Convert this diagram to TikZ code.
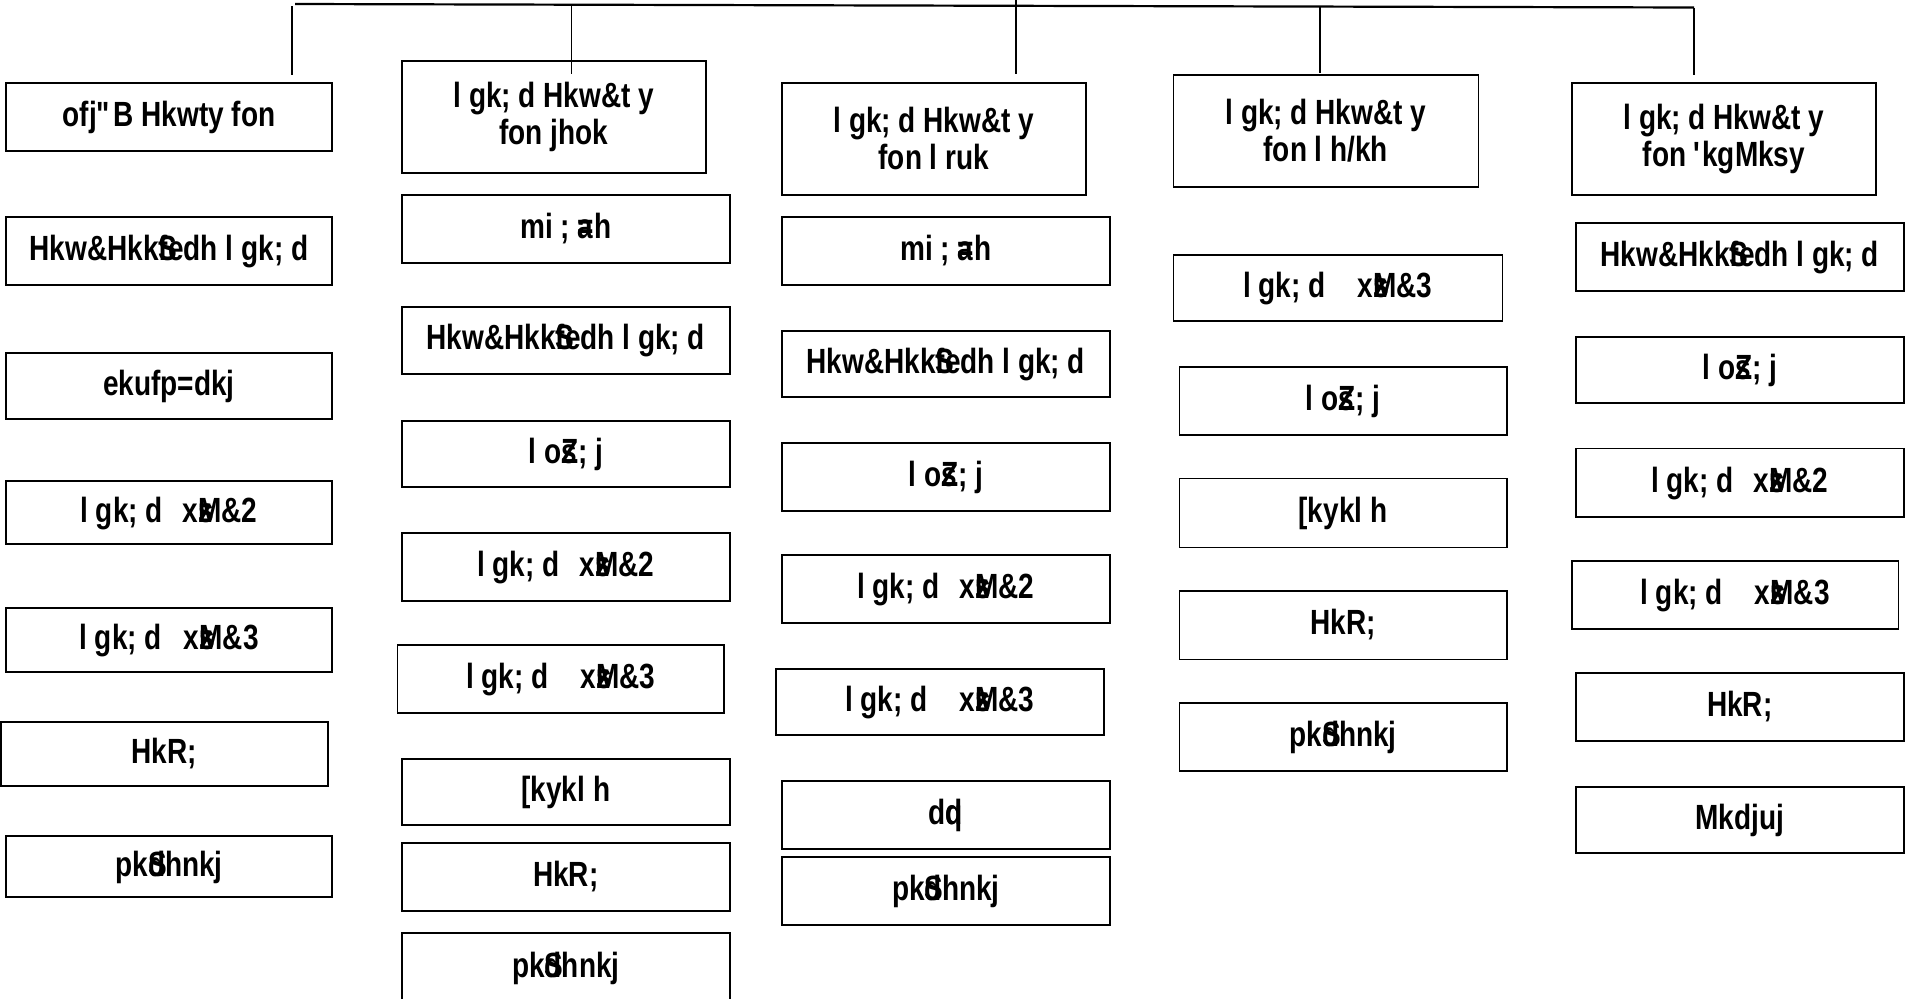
\documentclass[tikz,border=0pt]{standalone}
\usepackage{fontspec}
\setmainfont{Liberation Sans}
\newfontfamily\kdfont{Liberation Sans Bold}[FakeStretch=0.8]
\newcommand\kov[1]{\makebox[0pt][l]{#1}}
\newcommand\kbox[6]{\node[kbox,minimum width={#4-#2},minimum height={#5-#3}] (#1) at ({(#2+#4)/2},{(#3+#5)/2}) {#6};}
\newcommand\khead[6]{\node[khead,minimum width={#4-#2},minimum height={#5-#3}] (#1) at ({(#2+#4)/2},{(#3+#5)/2}) {#6};}
\newcommand\kgd[2]{l gk; d\hspace{#2}x\kov{z}\kov{s}M\&#1}
\begin{document}
\begin{tikzpicture}[x=1pt,y=-1pt,
  kbox/.style={draw,line width=1.6pt,inner sep=0pt,font=\kdfont\fontsize{35}{37}\selectfont,text height=26pt,text depth=7pt},
  khead/.style={draw,line width=1.6pt,inner sep=0pt,align=center,font=\kdfont\fontsize{35}{37}\selectfont},
  wire/.style={line width=1.4pt},
  bus/.style={line width=2.2pt}]
\useasboundingbox (0,0) rectangle (1907,999);
% column 1
\kbox{a1}{6}{82.7}{332}{151}{ofj\textquotedbl B Hkwty fon}
\kbox{a2}{6}{216.7}{332}{285}{Hkw\&Hkk\kov{S}fedh l gk; d}
\kbox{a3}{6}{353}{332}{419}{ekufp=dkj}
\kbox{a4}{6}{481}{332}{544}{\kgd{2}{20pt}}
\kbox{a5}{6}{608}{332}{672}{\kgd{3}{22pt}}
\kbox{a6}{0.8}{722}{328}{786}{HkR;}
\kbox{a7}{6}{836}{332}{897}{pk\kov{S}dhnkj}
% column 2
\khead{b1}{401.7}{60.7}{706}{172.7}{l gk; d Hkw\&t y\\fon jhok}
\kbox{b2}{401.7}{195}{730}{262.7}{mi ; \kov{a}=h}
\kbox{b3}{401.7}{306.7}{730}{374}{Hkw\&Hkk\kov{S}fedh l gk; d}
\kbox{b4}{401.7}{420.7}{730}{486.7}{l o\kov{s}Z; j}
\kbox{b5}{401.7}{532.7}{730}{600.7}{\kgd{2}{20pt}}
\kbox{b6}{397.3}{644.7}{724}{712.7}{\kgd{3}{32pt}}
\kbox{b7}{401.7}{758.7}{730}{825}{[kykl h}
\kbox{b8}{401.7}{842.7}{730}{910.7}{HkR;}
\kbox{b9}{401.7}{932.7}{730}{1003}{pk\kov{S}dhnkj}
% column 3
\khead{c1}{781.7}{82.7}{1086}{195}{l gk; d Hkw\&t y\\fon l ruk}
\kbox{c2}{781.7}{216.7}{1110}{285}{mi ; \kov{a}=h}
\kbox{c3}{781.7}{331}{1110}{396.7}{Hkw\&Hkk\kov{S}fedh l gk; d}
\kbox{c4}{781.7}{442.7}{1110}{510.7}{l o\kov{s}Z; j}
\kbox{c5}{781.7}{555}{1110}{622.7}{\kgd{2}{20pt}}
\kbox{c6}{775.7}{669}{1104}{735}{\kgd{3}{32pt}}
\kbox{c7}{781.7}{781}{1110}{849}{d\kov{q}d}
\kbox{c8}{781.7}{856.7}{1110}{925}{pk\kov{S}dhnkj}
% column 4
\khead{d1}{1173.3}{75}{1478.3}{186.7}{l gk; d Hkw\&t y\\fon l h/kh}
\kbox{d2}{1173.3}{255}{1502.3}{320.7}{\kgd{3}{32pt}}
\kbox{d3}{1179.3}{366.7}{1506.7}{435}{l o\kov{s}Z; j}
\kbox{d4}{1179.3}{478.3}{1506.7}{547.3}{[kykl h}
\kbox{d5}{1179.3}{590.7}{1506.7}{659.3}{HkR;}
\kbox{d6}{1179.3}{702.7}{1506.7}{771}{pk\kov{S}dhnkj}
% column 5
\khead{e1}{1571.7}{82.7}{1876}{195}{l gk; d Hkw\&t y\\fon \textquotesingle kgMksy}
\kbox{e2}{1575.7}{222.7}{1904}{290.7}{Hkw\&Hkk\kov{S}fedh l gk; d}
\kbox{e3}{1575.7}{336.7}{1904}{402.7}{l o\kov{s}Z; j}
\kbox{e4}{1575.7}{448.3}{1904}{516.7}{\kgd{2}{20pt}}
\kbox{e5}{1571.7}{560.7}{1898.3}{629}{\kgd{3}{32pt}}
\kbox{e6}{1575.7}{672.7}{1904}{740.7}{HkR;}
\kbox{e7}{1575.7}{786.7}{1904}{852.7}{Mkdjuj}
% bus and drops
\coordinate (busL) at (295,4);
\coordinate (busR) at (1694,7.5);
\coordinate (t1) at (292,6);
\coordinate (t2) at (571.7,6);
\coordinate (t3) at (1016,0);
\coordinate (t4) at (1320,7);
\coordinate (t5) at (1694,8);
\draw[bus] (busL) -- (busR);
\draw[wire,shorten >=6.7pt] (t1) -- (t1 |- a1.north);
\draw[wire,shorten >=-14pt] (t2) -- (t2 |- b1.north);
\draw[wire,shorten >=7.7pt] (t3) -- (t3 |- c1.north);
\draw[wire,shorten >=1pt] (t4) -- (t4 |- d1.north);
\draw[wire,shorten >=6.7pt] (t5) -- (t5 |- e1.north);
\end{tikzpicture}
\end{document}
